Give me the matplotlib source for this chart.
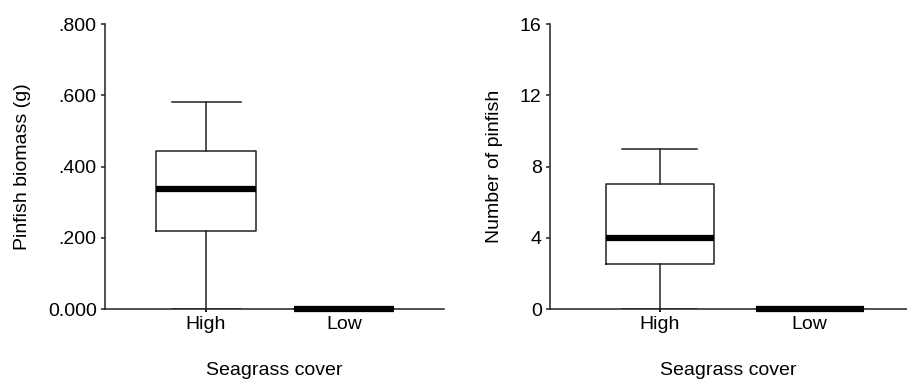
import matplotlib
matplotlib.use('Agg')
import matplotlib.pyplot as plt

plt.rcParams['font.family'] = ['Liberation Sans', 'DejaVu Sans']

# groups
groups = ['High', 'Low']

# pinfish biomass (g): whisker low, Q1, median, Q3, whisker high
biomass_lo  = [0.0, 0.0]
biomass_q1  = [0.218, 0.0]
biomass_med = [0.336, 0.0]
biomass_q3  = [0.444, 0.0]
biomass_hi  = [0.580, 0.0]
biomass_ticks  = [0.0, 0.2, 0.4, 0.6, 0.8]
biomass_labels = ['0.000', '.200', '.400', '.600', '.800']

# number of pinfish
count_lo  = [0, 0]
count_q1  = [2.5, 0]
count_med = [4, 0]
count_q3  = [7, 0]
count_hi  = [9, 0]
count_ticks  = [0, 4, 8, 12, 16]
count_labels = ['0', '4', '8', '12', '16']


def make_stats(lo, q1, med, q3, hi):
    stats = []
    for i in range(len(groups)):
        stats.append(dict(whislo=lo[i], q1=q1[i], med=med[i], q3=q3[i],
                          whishi=hi[i], fliers=[], label=groups[i]))
    return stats


def draw_panel(ax, stats, ticks, labels, ylabel, xlim):
    ax.bxp(stats, positions=[1, 2], widths=0.72, capwidths=0.5,
           showfliers=False, patch_artist=False,
           boxprops=dict(color='#222222', linewidth=1.1),
           whiskerprops=dict(color='#222222', linewidth=1.1),
           capprops=dict(color='#222222', linewidth=1.1),
           medianprops=dict(color='black', linewidth=4.5, solid_capstyle='butt',
                            clip_on=False, zorder=5))
    ax.set_xlim(xlim)
    ax.set_ylim(ticks[0], ticks[-1])
    ax.set_yticks(ticks)
    ax.set_yticklabels(labels)
    ax.set_xticks([1, 2])
    ax.set_xticklabels(groups)
    ax.spines['top'].set_visible(False)
    ax.spines['right'].set_visible(False)
    ax.spines['left'].set_color('#222222')
    ax.spines['bottom'].set_color('#222222')
    ax.spines['left'].set_linewidth(1.1)
    ax.spines['bottom'].set_linewidth(1.1)
    ax.tick_params(axis='y', direction='out', length=3, width=1.1, labelsize=14, pad=3, color='#222222')
    ax.tick_params(axis='x', direction='out', length=2, width=1.5, labelsize=14, pad=3, color='#222222')
    ax.set_ylabel(ylabel, fontsize=14, labelpad=12)
    ax.set_xlabel('Seagrass cover', fontsize=14, labelpad=21)


fig = plt.figure()
fig.set_size_inches([9.07, 3.83])

ax1 = fig.add_axes([0.1158, 0.1932, 0.3738, 0.7441])
draw_panel(ax1, make_stats(biomass_lo, biomass_q1, biomass_med, biomass_q3, biomass_hi),
           biomass_ticks, biomass_labels, 'Pinfish biomass (g)', (0.268, 2.725))

ax2 = fig.add_axes([0.6064, 0.1932, 0.3936, 0.7441])
draw_panel(ax2, make_stats(count_lo, count_q1, count_med, count_q3, count_hi),
           count_ticks, count_labels, 'Number of pinfish', (0.27, 2.65))

plt.savefig('out.png', dpi=100)
